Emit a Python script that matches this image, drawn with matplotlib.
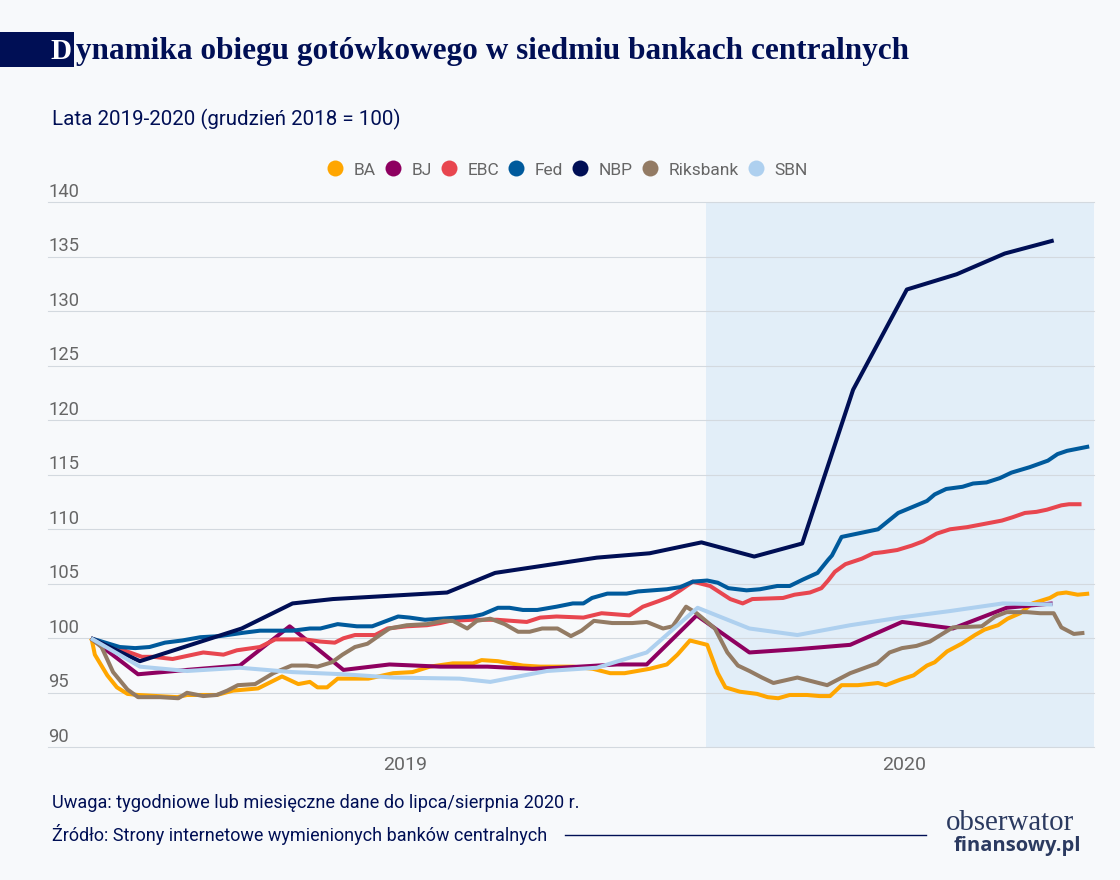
import matplotlib
matplotlib.use("Agg")
import matplotlib.pyplot as plt
from matplotlib.lines import Line2D
from matplotlib.patches import Rectangle
from matplotlib.transforms import ScaledTranslation

# x = weeks since December 2018
ba_x = [0,0.1,0.4,1.7,2.7,3.8,4.9,6.9,9.0,10,13.1,14.8,17.4,19.9,21.6,22.8,23.6,24.6,25.7,28.9,31.5,33.5,35.3,37.7,39.8,40.7,42.4,45,46.8,50.2,52.3,54.1,55.6,58.2,60,61.1,62.4,64.2,65.3,66.1,67.6,69.4,70.5,71.6,72.8,74.6,75.9,77,78.2,79.9,82,82.8,84.3,85.7,87.1,87.9,89.2,90.7,92.1,93.1,94.5,95.5,96.8,98.1,99.9,100.7,101.6,102.8,104]
ba_y = [100,99.8,98.5,96.6,95.5,94.9,94.8,94.7,94.6,94.8,94.8,95.2,95.4,96.5,95.8,96.0,95.5,95.5,96.3,96.3,96.8,96.9,97.4,97.7,97.7,98.0,97.9,97.5,97.4,97.4,97.2,96.8,96.8,97.2,97.6,98.5,99.8,99.4,96.8,95.5,95.1,94.9,94.6,94.5,94.8,94.8,94.7,94.7,95.7,95.7,95.9,95.7,96.2,96.6,97.5,97.8,98.8,99.5,100.3,100.8,101.2,101.8,102.3,103.2,103.7,104.1,104.2,104.0,104.1]
bj_x = [0,4.9,10,15.5,20.7,26.3,31.1,36.4,41.3,46,48.9,54.8,57.9,63.1,68.6,73.6,79.1,84.5,89.8,95.4,100.2]
bj_y = [100,96.7,97.1,97.5,101.1,97.1,97.6,97.4,97.4,97.2,97.3,97.6,97.6,102.1,98.7,99,99.4,101.5,100.9,102.8,103.2]
ebc_x = [0,5.3,6.5,8.5,11.7,13.8,15.2,17.6,19.2,22.3,23.9,25.4,26.3,27.5,29.6,30.9,32.9,35,36.4,37.4,39.8,42.3,45.4,46.8,48.5,51.3,53.2,56.1,57.5,59.1,60.3,61.4,62.7,64.5,66.6,67.9,68.9,72.1,73.3,74.9,76.1,76.8,77.5,78.6,80.3,81.5,82.5,84,85.5,86.7,88.1,89.5,91.3,94.9,96,97.3,98.5,99.6,101.1,101.9,103.2]
ebc_y = [100,98.3,98.3,98.1,98.7,98.5,98.9,99.2,99.9,99.9,99.7,99.6,100,100.3,100.3,100.9,101.1,101.2,101.4,101.6,101.7,101.7,101.5,101.9,102,101.9,102.3,102.1,102.9,103.4,103.8,104.4,105.2,104.8,103.6,103.2,103.6,103.7,104,104.2,104.6,105.3,106.1,106.8,107.3,107.8,107.9,108.1,108.5,108.9,109.6,110,110.2,110.8,111.1,111.5,111.6,111.8,112.2,112.3,112.3]
fed_x = [0,3,4.6,6.1,7.7,9.5,11.4,13.4,15.8,17.6,21,22.8,23.9,25.7,27.7,29.3,32,33.2,34.8,39.8,40.8,42.4,43.6,45,46.5,48.5,50.2,51.3,52.2,53.8,55.8,57,60,61.4,62.7,64.2,65.3,66.4,68.3,69.7,71.5,72.8,74.2,75.7,76.8,77.2,78.2,82,84.1,87.1,87.9,89.1,90.8,91.9,93.3,94.7,95.9,97.8,99.7,100.7,101.7,104]
fed_y = [100,99.2,99.1,99.2,99.6,99.8,100.1,100.2,100.5,100.7,100.7,100.9,100.9,101.3,101.1,101.1,102,101.9,101.7,102,102.2,102.8,102.8,102.6,102.6,102.9,103.2,103.2,103.7,104.1,104.1,104.3,104.5,104.7,105.2,105.3,105.1,104.6,104.4,104.5,104.8,104.8,105.4,106,107.2,107.6,109.3,110,111.5,112.6,113.2,113.7,113.9,114.2,114.3,114.7,115.2,115.7,116.3,116.9,117.2,117.6]
nbp_x = [0,5.1,15.7,21,25.2,37.1,42.1,52.7,58.2,63.6,69.1,74.1,79.4,85,90.2,95.2,100.3]
nbp_y = [100,97.9,100.9,103.2,103.6,104.2,106,107.4,107.8,108.8,107.5,108.7,122.8,132,133.4,135.3,136.5]
riks_x = [0,1.1,2.3,3.8,4.9,7.2,9.1,10,11.7,13.1,14.2,15.3,17.1,19,20.9,22.5,23.6,25.1,26.2,27.5,28.8,30.1,31.1,32.9,35,36.7,37.7,39.2,40.2,41.6,43.1,44.5,45.7,47,48.6,50,51.1,52.4,54.3,56.4,57.9,59.6,60.6,62,63.1,65,66.3,67.4,68.6,69.9,71.1,73.6,76.7,79.1,81.9,83.2,84.5,86,87.4,89.8,92.8,94.2,95.4,97.5,98.9,100.3,101.1,102.4,103.5]
riks_y = [100,99.2,96.9,95.3,94.6,94.6,94.5,95,94.7,94.8,95.2,95.7,95.8,96.8,97.5,97.5,97.4,97.8,98.5,99.2,99.5,100.3,100.9,101.2,101.3,101.6,101.6,100.9,101.6,101.8,101.3,100.6,100.6,100.9,100.9,100.2,100.7,101.6,101.4,101.4,101.5,100.9,101.1,102.9,102.3,100.9,98.7,97.5,97,96.4,95.9,96.4,95.7,96.8,97.7,98.7,99.1,99.3,99.7,101,101.1,102,102.4,102.4,102.3,102.3,101,100.4,100.5]
sbn_x = [0,5.1,10,15.5,21,26.3,31.5,38.4,41.6,47.5,52.7,57.9,63.2,68.6,73.6,79.1,84.3,89.5,95,100.2]
sbn_y = [100,97.4,97,97.3,96.9,96.7,96.4,96.3,96,97,97.3,98.7,102.8,100.9,100.3,101.2,101.9,102.5,103.2,103.1]

series_names = ["BA", "BJ", "EBC", "Fed", "NBP", "Riksbank", "SBN"]
series_colors = ["#ffa600", "#8e0060", "#e8464f", "#005a9c", "#000f55", "#937b64", "#aed0ef"]
series_x = [ba_x, bj_x, ebc_x, fed_x, nbp_x, riks_x, sbn_x]
series_y = [ba_y, bj_y, ebc_y, fed_y, nbp_y, riks_y, sbn_y]
y_ticks = [90, 95, 100, 105, 110, 115, 120, 125, 130, 135, 140]
year_labels = ["2019", "2020"]
year_pos = [32.7, 84.7]
band_start = 64.06

W, H = 1120, 880
BG = "#f7f9fb"
NAVY = "#000f55"
GRAY = "#666666"
SANS = "Roboto"

fig = plt.figure(figsize=(W / 100, H / 100), dpi=100, facecolor=BG)
ax = fig.add_axes([48 / W, 1 - 747.3 / H, (1094 - 48) / W, (747.3 - 202.3) / H], facecolor=BG)
ax.set_xlim(-4.48, 104.5)
ax.set_ylim(90, 140)
ax.axvspan(band_start, 104.5, color="#e2eef8", lw=0, zorder=0)
ax.set_yticks(y_ticks)
ax.set_xticks(year_pos)
ax.set_xticklabels(year_labels)
ax.grid(axis="y", color="#d3d9df", lw=0.8, zorder=1, clip_on=False)
ax.set_axisbelow(True)
for s in ax.spines.values():
    s.set_visible(False)
ax.tick_params(axis="y", length=0, labelcolor=GRAY, labelsize=13.2, pad=0)
ax.tick_params(axis="x", length=0, labelcolor=GRAY, labelsize=14, pad=6.5)
for lab in ax.get_xticklabels():
    lab.set_fontfamily(SANS)
for lab in ax.get_yticklabels():
    lab.set_fontfamily(SANS)
    lab.set_ha("left")
    lab.set_va("bottom")
    lab.set_transform(lab.get_transform() + ScaledTranslation(0, 1.5 / 100, fig.dpi_scale_trans))

for x, y, c, n in zip(series_x, series_y, series_colors, series_names):
    ax.plot(x, y, color=c, lw=2.9, label=n, zorder=3, solid_joinstyle="round", solid_capstyle="butt", clip_on=False)

handles = [Line2D([], [], ls="", marker="o", ms=11.5, mfc=c, mec="none") for c in series_colors]
leg = fig.legend(handles, series_names, ncol=7, frameon=False, loc="center",
                 bbox_to_anchor=(567 / W, 1 - 170 / H), handletextpad=0.55, columnspacing=0.5,
                 handlelength=1.0, borderpad=0, prop={"family": SANS, "size": 12.5}, labelcolor=GRAY)

# title block
fig.add_artist(Rectangle((0, 1 - 67 / H), 74 / W, 35 / H, transform=fig.transFigure, color=NAVY, lw=0))
fig.text(50 / W, 1 - 59 / H, "D", color="white", fontsize=21, fontweight="bold", family="Liberation Serif")
fig.text(76 / W, 1 - 59 / H, "ynamika obiegu gotówkowego w siedmiu bankach centralnych", color=NAVY,
         fontsize=22.5, fontweight="bold", family="Liberation Serif")
fig.text(52 / W, 1 - 125 / H, "Lata 2019-2020 (grudzień 2018 = 100)", color=NAVY, fontsize=14.8, family=SANS)

fig.text(52 / W, 1 - 808 / H, "Uwaga: tygodniowe lub miesięczne dane do lipca/sierpnia 2020 r.", color=NAVY,
         fontsize=13.1, family=SANS)
fig.text(52 / W, 1 - 841 / H, "Źródło: Strony internetowe wymienionych banków centralnych", color=NAVY,
         fontsize=13.0, family=SANS)
fig.add_artist(Line2D([565 / W, 926 / W], [1 - 835 / H, 1 - 835 / H], color=NAVY, lw=1, transform=fig.transFigure))

# logo
fig.text(946 / W, 1 - 830 / H, "obserwator", color="#2b3a60", fontsize=20.8, family="Liberation Serif")
fig.text(954 / W, 1 - 851 / H, "finansowy.pl", color="#2b3a60", fontsize=14.5, fontweight="bold", family="Open Sans")

fig.savefig("out.png", dpi=100, facecolor=BG)
